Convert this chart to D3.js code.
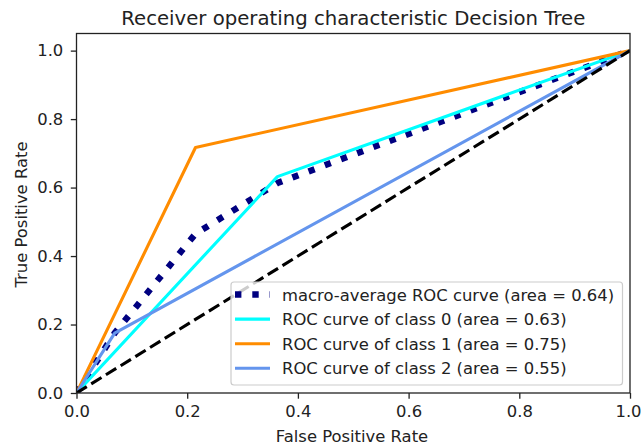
<!DOCTYPE html>
<html><head><meta charset="utf-8">
<script src="https://cdn.jsdelivr.net/npm/d3@7"></script>
<style>body{margin:0;background:#fff;} svg{display:block;}</style>
</head><body><svg id="c" width="641" height="445"></svg>
<script>
const title = "Receiver operating characteristic Decision Tree";
const xLabel = "False Positive Rate";
const yLabel = "True Positive Rate";
const ticks = [0, 0.2, 0.4, 0.6, 0.8, 1.0];
const tickLabels = ["0.0", "0.2", "0.4", "0.6", "0.8", "1.0"];
const macroFpr = [0, 0.069, 0.215, 0.363, 1];
const macroTpr = [0, 0.175, 0.465, 0.613, 1];
const class0Fpr = [0, 0.363, 1];
const class0Tpr = [0, 0.632, 1];
const class1Fpr = [0, 0.215, 1];
const class1Tpr = [0, 0.717, 1];
const class2Fpr = [0, 0.069, 1];
const class2Tpr = [0, 0.175, 1];
const diagX = [0, 1];
const diagY = [0, 1];
const seriesNames = ["macro-average ROC curve (area = 0.64)", "ROC curve of class 0 (area = 0.63)", "ROC curve of class 1 (area = 0.75)", "ROC curve of class 2 (area = 0.55)"];
const seriesColors = ["navy", "aqua", "darkorange", "cornflowerblue"];

const svg = d3.select("#c");
const L = 76.5, R = 630, T = 33.5, B = 393;
const x = d3.scaleLinear().domain([0, 1]).range([L, R]);
const y = d3.scaleLinear().domain([0, 1.05]).range([B, T]);
const font = "DejaVu Sans, sans-serif";
const fs = 16.4, tfs = 19.7, txt = "#222";

svg.append("clipPath").attr("id", "clip").append("rect")
  .attr("x", L).attr("y", T).attr("width", R - L).attr("height", B - T);

const line = d3.line().x(d => x(d[0])).y(d => y(d[1]));
const g = svg.append("g").attr("clip-path", "url(#clip)");
const series = [
  {fx: macroFpr, ty: macroTpr, color: seriesColors[0], w: 6.4, dash: "6.4,10.9"},
  {fx: class0Fpr, ty: class0Tpr, color: seriesColors[1], w: 3.1, dash: null},
  {fx: class1Fpr, ty: class1Tpr, color: seriesColors[2], w: 3.1, dash: null},
  {fx: class2Fpr, ty: class2Tpr, color: seriesColors[3], w: 3.1, dash: null},
  {fx: diagX, ty: diagY, color: "black", w: 3.1, dash: "12.1,5.2"}
];
series.forEach(s => {
  g.append("path").datum(s.fx.map((v, i) => [v, s.ty[i]]))
    .attr("d", line).attr("fill", "none").attr("stroke", s.color)
    .attr("stroke-width", s.w).attr("stroke-dasharray", s.dash)
    .attr("stroke-linecap", "butt").attr("stroke-linejoin", "round");
});

// axes
const xAxis = d3.axisBottom(x).tickValues(ticks).tickFormat((d, i) => tickLabels[i]).tickSize(5.7).tickPadding(6.5);
const yAxis = d3.axisLeft(y).tickValues(ticks).tickFormat((d, i) => tickLabels[i]).tickSize(5.7).tickPadding(7.5);
const gx = svg.append("g").attr("transform", `translate(0,${B})`).call(xAxis);
const gy = svg.append("g").attr("transform", `translate(${L},0)`).call(yAxis);
[gx, gy].forEach(a => {
  a.select(".domain").remove();
  a.selectAll("line").attr("stroke", "#222").attr("stroke-width", 1.3);
  a.selectAll("text").attr("font-family", font).attr("font-size", fs).attr("fill", txt);
});
gx.selectAll(".tick text").filter((d, i) => i === ticks.length - 1).attr("dx", -2);

// frame
svg.append("rect").attr("x", L).attr("y", T).attr("width", R - L).attr("height", B - T)
  .attr("fill", "none").attr("stroke", "#222").attr("stroke-width", 1.3);

// labels
svg.append("text").attr("x", (L + R) / 2).attr("y", 25).attr("text-anchor", "middle")
  .attr("font-family", font).attr("font-size", tfs).attr("fill", txt).text(title);
svg.append("text").attr("x", 352).attr("y", 441.5).attr("text-anchor", "middle")
  .attr("font-family", font).attr("font-size", fs).attr("fill", txt).text(xLabel);
svg.append("text").attr("transform", `translate(26.5,214.5) rotate(-90)`).attr("text-anchor", "middle")
  .attr("font-family", font).attr("font-size", fs).attr("fill", txt).text(yLabel);

// legend
const lg = svg.append("g");
const lx = 231, ly = 282, lw = 391.5, lh = 103;
lg.append("rect").attr("x", lx).attr("y", ly).attr("width", lw).attr("height", lh)
  .attr("rx", 3).attr("fill", "white").attr("fill-opacity", 0.8)
  .attr("stroke", "#cccccc").attr("stroke-width", 1.2);
seriesNames.forEach((name, i) => {
  const yy = 294.5 + i * 24.6;
  const s = series[i];
  lg.append("line").attr("x1", 235).attr("x2", 270).attr("y1", yy).attr("y2", yy)
    .attr("stroke", s.color).attr("stroke-width", s.w).attr("stroke-dasharray", s.dash);
  lg.append("text").attr("x", 282).attr("y", yy + 6).attr("font-family", font)
    .attr("font-size", fs).attr("fill", txt).text(name);
});
</script></body></html>
